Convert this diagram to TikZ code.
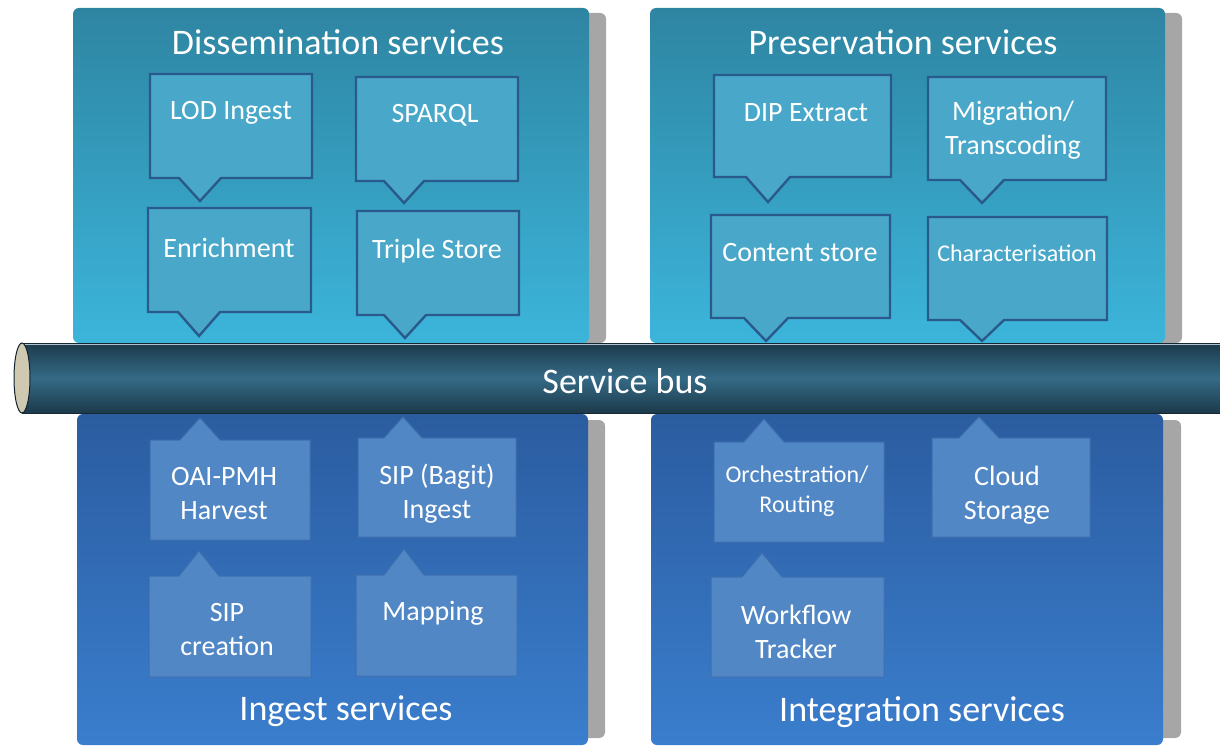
\documentclass[tikz,border=0pt]{standalone}
\usepackage{fontspec}
\setmainfont{Carlito}
\definecolor{topA}{HTML}{2E85A2}
\definecolor{topB}{HTML}{3CB5DB}
\definecolor{callT}{HTML}{49A8C9}
\definecolor{callBorder}{HTML}{2A5A8C}
\definecolor{botA}{HTML}{2B5CA0}
\definecolor{botB}{HTML}{3A7ECD}
\definecolor{callB}{HTML}{5187C5}
\definecolor{callBline}{HTML}{3E6FAE}
\definecolor{busDark}{HTML}{1C3A4A}
\definecolor{busMid}{HTML}{356A86}
\definecolor{capFill}{HTML}{D0C9B2}
\definecolor{shadowGray}{HTML}{A6A6A6}
\tikzset{
  shadowbox/.style={fill=shadowGray, rounded corners=6},
  toppanel/.style={top color=topA, bottom color=topB, rounded corners=6},
  botpanel/.style={top color=botA, bottom color=botB, rounded corners=6},
  topcall/.style={fill=callT, draw=callBorder, line width=2.4pt, line join=miter},
  botcall/.style={fill=callB, draw=callBline, line width=1pt, line join=miter},
  lbl/.style={text=white, inner sep=0pt, align=center, font=\fontsize{28}{34}\selectfont},
  lblsm/.style={lbl, font=\fontsize{24}{30}\selectfont},
  ttl/.style={text=white, inner sep=0pt, font=\fontsize{36}{40}\selectfont},
}
% down-pointing callout: l t r b tipx tipy halfbase
\newcommand\dncall[7]{%
  \filldraw[topcall] (#1,#2) -- (#3,#2) -- (#3,#4) -- (#5+#7,#4) -- (#5,#6) -- (#5-#7,#4) -- (#1,#4) -- cycle;}
% up-pointing callout: l t r b tipx tipy halfbase
\newcommand\upcall[7]{%
  \filldraw[botcall] (#1,#2) -- (#5-#7,#2) -- (#5,#6) -- (#5+#7,#2) -- (#3,#2) -- (#3,#4) -- (#1,#4) -- cycle;}
\begin{document}
\begin{tikzpicture}[x=1pt,y=-1pt]
\useasboundingbox (0,0) rectangle (1220,746);
\clip (0,0) rectangle (1220,746);
% shadows
\fill[shadowbox] (90,13) rectangle (606,343);
\fill[shadowbox] (667,13) rectangle (1182,343);
\fill[shadowbox] (94,420) rectangle (605,738);
\fill[shadowbox] (668,420) rectangle (1181,738);
% panels
\path[toppanel] (73,8) rectangle (589,343);
\path[toppanel] (650,8) rectangle (1165,343);
\path[botpanel] (77,414) rectangle (588,745);
\path[botpanel] (651,414) rectangle (1163,745);
% titles
\node[ttl] (dtitle) at (338,42) {Dissemination services};
\node[ttl] (ptitle) at (903,42) {Preservation services};
\node[ttl] (ititle) at (346,711) {Ingest services};
\node[ttl] (gtitle) at (922,712) {Integration services};
% top callouts
\dncall{150}{74}{312}{178}{200}{201}{21}
\dncall{356}{77}{518}{181}{404}{203}{20}
\dncall{148}{208}{311}{312}{199}{336}{21}
\dncall{357}{211}{519}{315}{405}{338}{21}
\dncall{714}{75}{891}{177}{768}{202}{22}
\dncall{928}{77}{1106}{180}{982}{203}{22}
\dncall{711}{215}{890}{318}{766}{341}{22}
\dncall{928}{217}{1107}{320}{982}{341}{22}
% bus
\path[top color=busDark, bottom color=busDark, middle color=busMid] (22,343) rectangle (1230,413);
\draw[busDark!70!black, line width=0.8pt] (22,343) -- (1230,343) (22,413) -- (1230,413);
\draw[white!60!busMid, line width=0.6pt] (24,344.5) -- (1230,344.5);
\filldraw[fill=capFill, draw=busDark!60!black, line width=1pt] (22,378) ellipse [x radius=8, y radius=35];
\node[ttl] (bus) at (625,381) {Service bus};
% bottom callouts
\upcall{150}{440}{310}{540}{200}{418}{20}
\upcall{358}{438}{516}{537}{403}{417}{19}
\upcall{149}{576}{311}{677}{199}{551}{20}
\upcall{356}{575}{517}{676}{404}{549}{20}
\upcall{714}{442}{884}{542}{764}{419}{20}
\upcall{932}{438}{1090}{537}{979}{417}{20}
\upcall{711}{577}{884}{677}{762}{553}{20}
% callout labels
\node[lbl] (lod) at (231,113) {LOD Ingest};
\node[lbl] (sparql) at (435,115) {SPARQL};
\node[lbl] (enrich) at (229,248) {Enrichment};
\node[lbl] (triple) at (437,251) {Triple Store};
\node[lbl] (dip) at (806,113) {DIP Extract};
\node[lbl] (migr) at (1013,130) {Migration/\\Transcoding};
\node[lbl] (content) at (800,253) {Content store};
\node[lblsm] (charac) at (1017,253) {Characterisation};
\node[lbl] (oai) at (224,494) {OAI-PMH\\Harvest};
\node[lbl] (bagit) at (437,494) {SIP (Bagit)\\Ingest};
\node[lbl] (sipc) at (227,630) {SIP\\creation};
\node[lbl] (mapping) at (433,613) {Mapping};
\node[lblsm] (orch) at (797,491) {Orchestration/\\Routing};
\node[lbl] (cloud) at (1007,495) {Cloud\\Storage};
\node[lbl] (wf) at (796,632) {Workflow\\Tracker};
\end{tikzpicture}
\end{document}
